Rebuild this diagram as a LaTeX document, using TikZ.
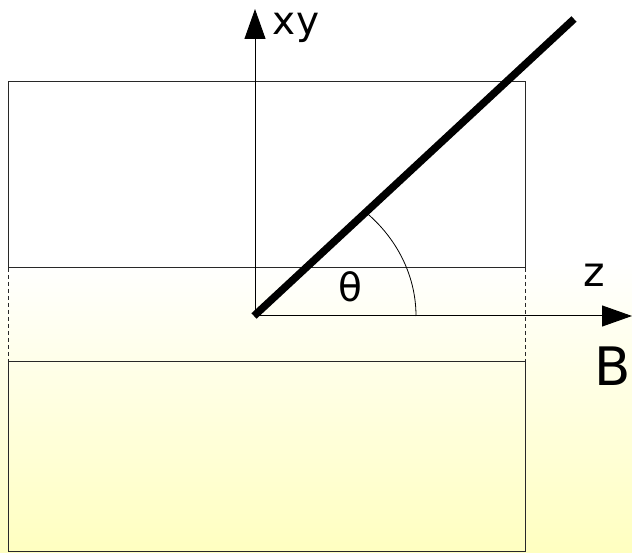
\documentclass[tikz,border=0pt]{standalone}
\usepackage{fontspec}
\setmainfont{DejaVu Sans}
\usetikzlibrary{arrows.meta}
\definecolor{paleyellow}{RGB}{255,255,192}
\definecolor{framegray}{RGB}{40,40,40}
\tikzset{
  frame/.style={draw=framegray, line width=1pt},
  dashframe/.style={draw=framegray, line width=1pt, dash pattern=on 4pt off 3pt},
  axis/.style={draw=black, line width=1pt, -{Triangle[length=30pt,width=21pt]}},
  rod/.style={draw=black, line width=7.5pt},
  lbl/.style={inner sep=0pt, anchor=base, font=\fontsize{39pt}{41pt}\selectfont},
  zlbl/.style={inner sep=0pt, anchor=base, font=\fontsize{41pt}{43pt}\selectfont},
  biglbl/.style={inner sep=0pt, anchor=base, font=\fontsize{53pt}{55pt}\selectfont}
}
\begin{document}
\begin{tikzpicture}[x=1pt,y=-1pt]
\useasboundingbox (0,0) rectangle (632,553);
\fill[white] (0,0) rectangle (632,262);
\shade[top color=white, bottom color=paleyellow] (0,262) rectangle (632,553);
% rectangles
\draw[frame] (8,82) rectangle (525,268);
\draw[frame] (8,362) rectangle (525,551);
\draw[dashframe] (8,268) -- (8,362);
\draw[dashframe] (525,268) -- (525,362);
% axes
\coordinate (O) at (255,316);
\coordinate (xytip) at (255,9);
\coordinate (ztip) at (632,316);
\draw[axis] (O) -- (xytip);
\draw[axis] (O) -- (ztip);
% rod
\coordinate (r0) at (254,316);
\coordinate (r1) at (574,19);
\draw[rod] (r0) -- (r1);
% angle arc
\draw[draw=black, line width=0.8pt] (416,316) arc[start angle=0, end angle=45.4, x radius=161, y radius=-143];
% labels
\node[lbl] (xy) at (296,35) {xy};
\node[zlbl] (z) at (594,287) {z};
\node[lbl] (theta) at (350,302) {θ};
\node[biglbl] (B) at (613,385) {B};
\end{tikzpicture}
\end{document}
